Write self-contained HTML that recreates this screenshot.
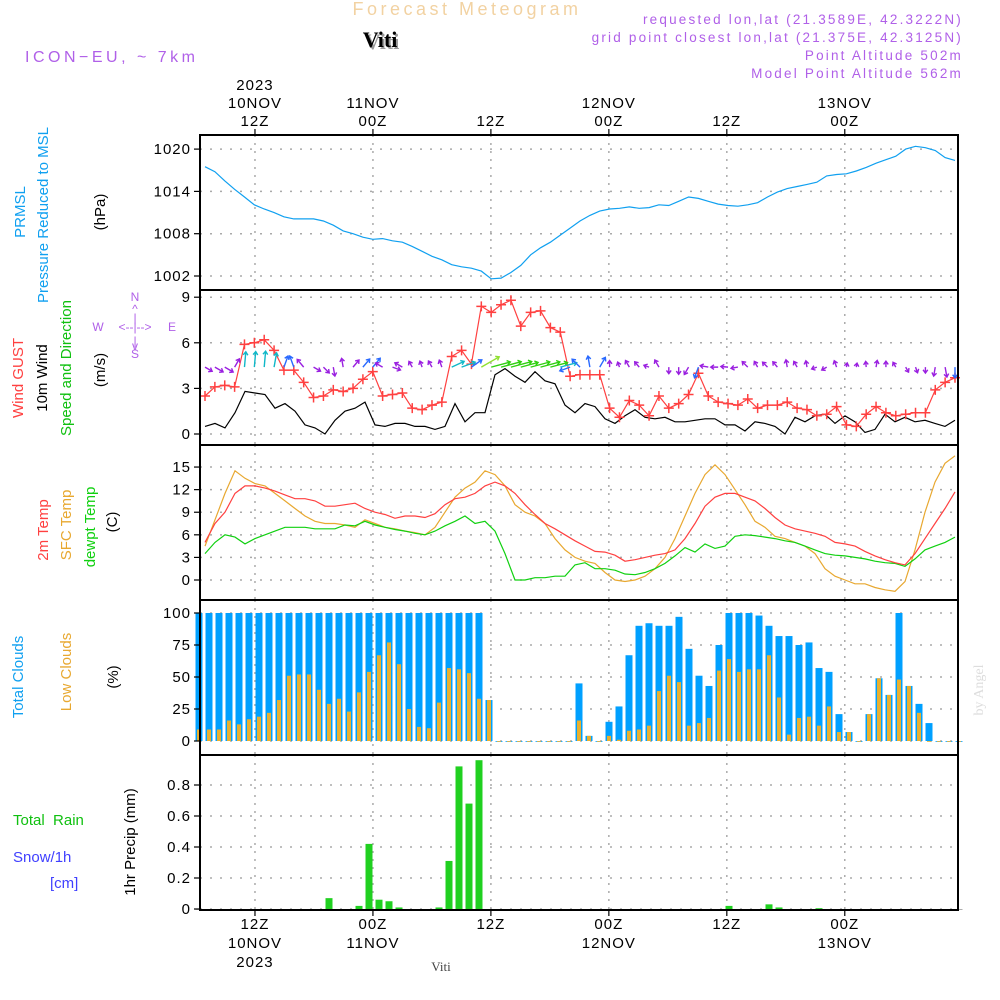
<!DOCTYPE html>
<html><head><meta charset="utf-8"><style>
html,body{margin:0;padding:0;background:#fff;}
svg{display:block;font-family:"Liberation Sans",sans-serif;}
</style></head><body>
<svg id="chart" width="1000" height="1000" viewBox="0 0 1000 1000" xmlns="http://www.w3.org/2000/svg">
<g id="header">
<text x="467" y="15" text-anchor="middle" font-size="18" fill="#f2d2a2" letter-spacing="3.5">Forecast Meteogram</text>
<text x="382" y="49" text-anchor="middle" font-size="22" font-weight="bold" font-family="Liberation Serif,serif" fill="#999">Viti</text>
<text x="380" y="47" text-anchor="middle" font-size="22" font-weight="bold" font-family="Liberation Serif,serif" fill="#000">Viti</text>
<text x="25" y="62" font-size="16" fill="#b060e8" letter-spacing="3.5">ICON−EU, ~ 7km</text>
<g font-size="13.5" fill="#b060e8" text-anchor="end" letter-spacing="2.2">
<text x="963" y="24">requested lon,lat (21.3589E, 42.3222N)</text>
<text x="963" y="42">grid point closest lon,lat (21.375E, 42.3125N)</text>
<text x="963" y="60">Point Altitude 502m</text>
<text x="963" y="78">Model Point Altitude 562m</text>
</g>
<text transform="translate(983,690) rotate(-90)" text-anchor="middle" font-size="14" font-family="Liberation Serif,serif" fill="#ddd">by Angel</text>
<text x="441" y="971" text-anchor="middle" font-size="13" font-family="Liberation Serif,serif" fill="#444">Viti</text>
</g>
<g id="leftlabels" font-size="15">
<text transform="translate(25,212) rotate(-90)" text-anchor="middle" fill="#10a0f0">PRMSL</text>
<text transform="translate(48,215) rotate(-90)" text-anchor="middle" fill="#10a0f0">Pressure Reduced to MSL</text>
<text transform="translate(105,212) rotate(-90)" text-anchor="middle" fill="#000">(hPa)</text>
<text transform="translate(23,378) rotate(-90)" text-anchor="middle" fill="#ff4040">Wind GUST</text>
<text transform="translate(47,378) rotate(-90)" text-anchor="middle" fill="#000">10m Wind</text>
<text transform="translate(71,368) rotate(-90)" text-anchor="middle" fill="#10c010">Speed and Direction</text>
<text transform="translate(105,370) rotate(-90)" text-anchor="middle" fill="#000">(m/s)</text>
<g font-size="12" fill="#b060e8" text-anchor="middle">
<text x="135" y="301">N</text><text x="135" y="313">^</text><text x="135" y="322">|</text>
<text x="135" y="331">&lt;--|--&gt;</text><text x="98" y="331">W</text><text x="172" y="331">E</text>
<text x="135" y="345">|</text><text x="135" y="350">v</text><text x="135" y="358">S</text>
</g>
<text transform="translate(48,530) rotate(-90)" text-anchor="middle" fill="#ff4040">2m Temp</text>
<text transform="translate(71,525) rotate(-90)" text-anchor="middle" fill="#e8a830">SFC Temp</text>
<text transform="translate(95,527) rotate(-90)" text-anchor="middle" fill="#10d010">dewpt Temp</text>
<text transform="translate(117,522) rotate(-90)" text-anchor="middle" fill="#000">(C)</text>
<text transform="translate(23,677) rotate(-90)" text-anchor="middle" fill="#10a0f0">Total Clouds</text>
<text transform="translate(71,672) rotate(-90)" text-anchor="middle" fill="#e8a830">Low Clouds</text>
<text transform="translate(118,677) rotate(-90)" text-anchor="middle" fill="#000">(%)</text>
<text x="13" y="825" fill="#10c010" xml:space="preserve">Total  Rain</text>
<text x="13" y="862" fill="#4040ff">Snow/1h</text>
<text x="50" y="888" fill="#4040ff">[cm]</text>
<text transform="translate(135,842) rotate(-90)" text-anchor="middle" fill="#000">1hr Precip (mm)</text>
</g>
<g id="grid"></g>
<g id="marks"></g>
<g id="frame"></g>
<g id="axes" font-size="15" letter-spacing="1"></g>
</svg>
<script>
// ---------- data ----------
const timeTickHours = [6, 18, 30, 42, 54, 66];
const topTickLabels = [["2023","10NOV","12Z"],["11NOV","00Z"],["12Z"],["12NOV","00Z"],["12Z"],["13NOV","00Z"]];
const bottomTickLabels = [["12Z","10NOV","2023"],["00Z","11NOV"],["12Z"],["00Z","12NOV"],["12Z"],["00Z","13NOV"]];
const pressureTicks = [1002, 1008, 1014, 1020];
const windTicks = [0, 3, 6, 9];
const tempTicks = [0, 3, 6, 9, 12, 15];
const cloudTicks = [0, 25, 50, 75, 100];
const precipTicks = [0, 0.2, 0.4, 0.6, 0.8];
const precipTickLabels = ["0", "0.2", "0.4", "0.6", "0.8"];

const pressure = [1017.5,1016.8,1015.5,1014.3,1013.2,1012.1,1011.5,1011,1010.4,1010.1,1010.1,1010.1,1009.8,1009.2,1008.4,1008.0,1007.5,1007.2,1007.3,1007.0,1006.8,1006.2,1005.5,1004.8,1004.3,1003.6,1003.3,1003.1,1002.7,1001.6,1001.7,1002.5,1003.5,1005.0,1006.0,1006.8,1007.8,1008.8,1009.8,1010.6,1011.2,1011.5,1011.6,1011.8,1011.6,1011.7,1012.1,1012.0,1012.6,1013.2,1013.0,1012.6,1012.2,1012.0,1011.9,1012.1,1012.4,1013.2,1013.9,1014.4,1014.7,1015.0,1015.3,1016.2,1016.4,1016.5,1016.9,1017.4,1018.0,1018.5,1019.0,1020.0,1020.4,1020.2,1019.8,1018.8,1018.4];

const windGust = [2.5,3.1,3.2,3.1,5.9,6.0,6.2,5.5,4.2,4.2,3.4,2.4,2.5,2.9,2.8,3.0,3.6,4.1,2.5,2.6,2.7,1.7,1.6,1.9,2.1,5.1,5.5,4.6,8.4,8.0,8.5,8.8,7.1,8.0,8.1,7.0,6.7,3.8,3.9,
3.9,3.9,1.7,1.1,2.2,1.9,1.2,2.5,1.7,2.0,2.6,4.0,2.5,2.1,2.0,1.9,2.3,1.7,1.9,1.9,2.1,1.7,1.6,1.2,1.3,1.8,0.6,0.5,1.3,1.8,1.4,1.2,1.3,1.4,1.4,2.9,3.4,3.7];
const windSpeed = [0.5,0.7,0.4,1.4,2.8,2.7,2.6,1.7,2.0,1.5,0.6,0.4,0.0,0.9,1.5,1.7,2.1,0.6,0.5,0.7,0.7,0.5,0.5,0.3,0.5,2.0,0.8,1.4,1.4,3.9,4.3,3.8,3.4,4.1,3.5,3.3,1.9,1.4,2.0,
1.8,1.0,0.7,1.2,1.6,1.1,1.0,1.1,0.8,0.8,0.9,1.0,1.0,0.6,0.6,0.2,0.8,0.7,0.5,0.0,1.1,0.8,1.2,1.3,0.7,1.2,0.8,0.1,0.3,1.3,0.8,1.1,0.8,0.9,0.7,0.5,0.9];
const windDir = [-30,-30,-30,60,85,85,85,80,70,110,130,-30,-45,-80,100,50,50,50,150,-20,150,120,110,120,110,25,20,35,30,15,15,15,15,15,15,15,15,200,135,
100,60,90,110,120,130,160,120,-90,-90,-120,-110,170,180,175,-170,135,120,135,130,100,120,100,-160,-150,110,80,80,95,80,90,120,-60,-70,-90,-100,-80,-90];

const temp2m = [5,7.5,9,11.5,12.5,12.5,12.2,11.8,11.3,10.8,10.8,10.5,9.8,9.8,10,10.2,9.5,9,8.7,8.2,8.5,8.5,8.3,8.8,10,10.8,11,11.5,12.5,13,12.5,11.5,10,8.7,7.5,6.8,6,5.2,4.5,3.8,3.7,3.3,2.5,2.7,3.0,3.3,3.5,4.0,5.5,7.5,9.8,11,11.5,11.5,11,10.5,9.5,8.3,7.3,6.8,6.5,6.2,5.8,5,4.8,4.5,3.8,3.2,2.7,2.3,2,3.5,5.5,7.5,9.5,11.7];
const tempSfc = [4.5,8,11.5,14.5,13.5,12.8,12.5,11.5,10.5,9.5,8.5,7.8,7.5,7.5,7.3,7,8,7.5,7,6.8,6.5,6.3,6,7,9,11,12.2,13,14.5,14,12.5,10,9,8.5,7.5,5.5,4,3,2.5,2.2,1,0,-0.2,0,0.5,1.5,3.0,5.5,8.5,11.5,14,15.3,14,12,10,7.8,7,5.8,5.5,5,4.5,3.5,1.5,0.5,0,-0.5,-0.5,-1,-1.3,-1.5,-0.2,4,9,13,15.5,16.5];
const tempDew = [3.5,5,6,5.7,4.8,5.5,6,6.5,7,7,7,6.8,6.8,6.8,7.3,7.2,7.8,7.3,7,6.7,6.5,6.2,6,6.5,7.2,7.8,8.5,7.5,7.8,6.5,3.5,0,0,0.3,0.3,0.5,0.5,2,2.3,1.5,1.5,1.3,0.8,0.7,1,1.5,2.2,3.2,4.3,3.7,4.8,4.2,4.5,5.8,6,5.9,5.7,5.5,5.2,5,4.5,4,3.5,3.3,3.2,3,2.8,2.5,2.3,2.2,1.8,2.8,4,4.5,5,5.7];

const cloudTotal = [100,100,100,100,100,100,100,100,100,100,100,100,100,100,100,100,100,100,100,100,100,100,100,100,100,100,100,100,100,32,0,0,0,0,0,0,0,0,45,4,0,15,27,67,90,92,90,90,97,72,51,43,75,100,100,100,98,90,82,82,75,77,57,54,21,7,0,21,49,36,100,43,29,14,0,0,0];
const cloudLow = [9,9,9,16,13,17,19,22,32,51,52,52,40,29,33,23,38,54,67,77,60,25,11,10,30,57,56,53,33,32,0,0,0,0,0,0,0,0,16,4,0,4,1,8,9,12,39,51,46,12,14,18,55,64,54,56,56,67,34,5,18,19,12,27,7,7,0,21,49,36,48,43,22,0,0,0,0];
const precip = [0,0,0,0,0,0,0,0,0,0,0,0,0,0.07,0,0,0.02,0.42,0.06,0.05,0.01,0,0,0,0.01,0.31,0.92,0.68,0.96,0,0,0,0,0,0,0,0,0,0,0,0,0,0,0,0,0,0,0,0,0,0,0,0,0.02,0,0,0,0.03,0.01,0,0,0,0.005,0,0,0,0,0,0,0,0,0,0,0,0,0,0];

// ---------- scales ----------
const X0 = 200, X1 = 958;
const panels = [
  {top:135, bot:290, y:v => 276 - (v-1002)*7.05},
  {top:290, bot:445, y:v => 434 - v*15.2},
  {top:445, bot:600, y:v => 580 - v*7.53},
  {top:600, bot:755, y:v => 741 - v*1.28},
  {top:755, bot:910, y:v => 909 - v*155}
];
const xTime = h => 196 + h*9.83;
const xLine = (i, n) => 205 + i*750/(n-1);
const xBar = i => 199 + i*10;

const NS = "http://www.w3.org/2000/svg";
function mk(parent, tag, attrs, text){
  const e = document.createElementNS(NS, tag);
  for (const k in attrs) e.setAttribute(k, attrs[k]);
  if (text !== undefined) e.textContent = text;
  document.getElementById(parent).appendChild(e);
  return e;
}

// ---------- grid ----------
const tickSets = [pressureTicks, windTicks, tempTicks, cloudTicks, precipTicks];
panels.forEach((p, pi) => {
  tickSets[pi].forEach(t => {
    const g = mk("grid","line",{x1:X0,x2:X1,y1:p.y(t),y2:p.y(t),stroke:"#aaa","stroke-width":1.5,"stroke-dasharray":"2 8"});
    
    
  });
  timeTickHours.forEach(h => {
    const g = mk("grid","line",{x1:xTime(h),x2:xTime(h),y1:p.top,y2:p.bot,stroke:"#aaa","stroke-width":1.5,"stroke-dasharray":"2 6"});
    
    
  });
});

// ---------- marks ----------
function polyline(arr, scaleY, color, name, w){
  const pts = arr.map((v,i) => xLine(i, arr.length).toFixed(1)+","+scaleY(v).toFixed(1)).join(" ");
  const e = mk("marks","polyline",{points:pts,fill:"none",stroke:color,"stroke-width":w||1.2});
  
  
}
polyline(pressure, panels[0].y, "#10a0f0", "pressure-line");

// wind speed & gust
polyline(windSpeed, panels[1].y, "#000", "wind-speed-line");
polyline(windGust, panels[1].y, "#ff4040", "wind-gust-line");
windGust.forEach((v,i) => {
  const x = xLine(i, windGust.length), y = panels[1].y(v);
  const m = mk("marks","path",{d:`M${x-5},${y}H${x+5}M${x},${y-5}V${y+5}`,stroke:"#ff4040","stroke-width":1.5});
  
  
});
windDir.forEach((d,i) => {
  const g = windGust[i];
  const x = xLine(i, windDir.length), y = panels[1].y(4.4);
  const len = 3 + g*2.1;
  const a = d*Math.PI/180;
  const x2 = x + Math.cos(a)*len, y2 = y - Math.sin(a)*len;
  const col = g < 3.5 ? "#9a20e0" : g < 5 ? "#2a6aff" : g < 7 ? "#10b8c8" : (i===28 ? "#90e030" : "#30d010");
  const h1 = a + Math.PI*0.8, h2 = a - Math.PI*0.8;
  const d1 = `M${x},${y}L${x2},${y2}M${x2+Math.cos(h1)*4},${y2-Math.sin(h1)*4}L${x2},${y2}L${x2+Math.cos(h2)*4},${y2-Math.sin(h2)*4}`;
  const e = mk("marks","path",{d:d1,stroke:col,"stroke-width":1.4,fill:"none"});
  
  
});

// temperatures
polyline(tempSfc, panels[2].y, "#e8a830", "sfc-temp-line");
polyline(tempDew, panels[2].y, "#10d010", "dewpoint-line");
polyline(temp2m, panels[2].y, "#ff4040", "temp-2m-line");

// clouds
cloudTotal.forEach((v,i) => {
  const y = panels[3].y(v), y0 = panels[3].y(0);
  const b = mk("marks","rect",{x:xBar(i)-3.5,y:y,width:7,height:Math.max(y0-y,0.8),fill:"#00a0ff"});
  
  
});
cloudLow.forEach((v,i) => {
  const y = panels[3].y(v), y0 = panels[3].y(0);
  const b = mk("marks","rect",{x:xBar(i)-2,y:y,width:4,height:Math.max(y0-y,0.8),fill:"#e8b030"});
  
  
});

// precip
precip.forEach((v,i) => {
  const y = panels[4].y(v), y0 = panels[4].y(0);
  const b = mk("marks","rect",{x:xBar(i)-3.5,y:y,width:7,height:Math.max(y0-y,0.8),fill:v>0?"#20d020":"#999"});
  
  
});

// ---------- frame & axes ----------
panels.forEach((p, pi) => {
  const f = mk("frame","rect",{x:X0,y:p.top,width:X1-X0,height:p.bot-p.top,fill:"none",stroke:"#000","stroke-width":2});
  
  
  tickSets[pi].forEach((t, ti) => {
    const y = p.y(t);
    const tk = mk("axes","line",{x1:X0-6,x2:X0,y1:y,y2:y,stroke:"#000","stroke-width":1.2});
    
    
    const lbl = pi === 4 ? precipTickLabels[ti] : String(t);
    const tx = mk("axes","text",{x:X0-9,y:y+5,"text-anchor":"end"}, lbl);
    
    
  });
});
timeTickHours.forEach((h, k) => {
  const x = xTime(h);
  const t1 = mk("axes","line",{x1:x,x2:x,y1:129,y2:135,stroke:"#000","stroke-width":1.2});
  
  
  const t2 = mk("axes","line",{x1:x,x2:x,y1:910,y2:916,stroke:"#000","stroke-width":1.2});
  
  
  const top = topTickLabels[k];
  top.forEach((s, j) => {
    const e = mk("axes","text",{x:x,y:126 - (top.length-1-j)*18,"text-anchor":"middle"}, s);
    
    
  });
  bottomTickLabels[k].forEach((s, j) => {
    const e = mk("axes","text",{x:x,y:929 + j*19,"text-anchor":"middle"}, s);
    
    
  });
});
</script>
</body></html>
